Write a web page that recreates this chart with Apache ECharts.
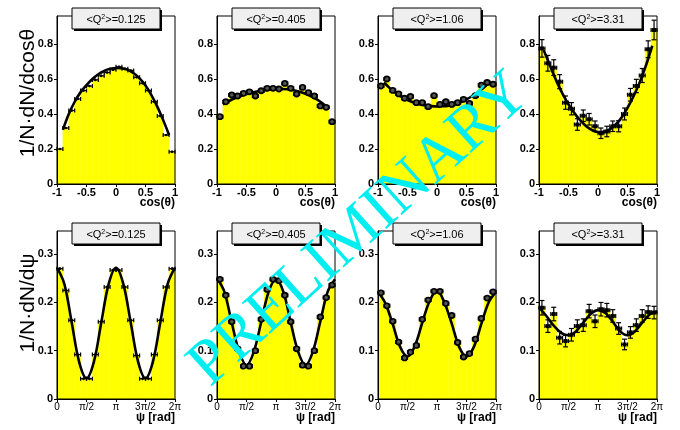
<!DOCTYPE html>
<html>
<head>
<meta charset="utf-8">
<title>angular distributions</title>
<script src="https://cdn.jsdelivr.net/npm/echarts/dist/echarts.min.js"></script>
<style>
    html, body { margin: 0; padding: 0; background: #fff; }
    #main { width: 680px; height: 430px; }
</style>
</head>
<body>
<div id="main"></div>
<script>
// bin edges: cos(theta) and psi (psi in units of pi)
var cosEdges = [-1, -0.9, -0.8, -0.7, -0.6, -0.5, -0.4, -0.3, -0.2, -0.1, 0,
    0.1, 0.2, 0.3, 0.4, 0.5, 0.6, 0.7, 0.8, 0.9, 1];
var psiEdges = [0, 0.1, 0.2, 0.3, 0.4, 0.5, 0.6, 0.7, 0.8, 0.9, 1,
    1.1, 1.2, 1.3, 1.4, 1.5, 1.6, 1.7, 1.8, 1.9, 2];
var psiTickLabels = ['0', 'π/2', 'π', '3π/2', '2π'];
var q2Labels = ['0.125', '0.405', '1.06', '3.31'];

// 1/N dN/dcos(theta)
var cosQ0125 = [0.20, 0.32, 0.42, 0.486, 0.534, 0.56, 0.595, 0.618, 0.637, 0.653,
    0.67, 0.658, 0.649, 0.61, 0.576, 0.534, 0.47, 0.389, 0.28, 0.184];
var cosQ0405 = [0.385, 0.47, 0.509, 0.503, 0.518, 0.527, 0.503, 0.533, 0.547, 0.547,
    0.543, 0.575, 0.547, 0.514, 0.552, 0.522, 0.503, 0.446, 0.438, 0.356];
var cosQ106 = [0.56, 0.60, 0.535, 0.515, 0.49, 0.50, 0.465, 0.465, 0.442, 0.505,
    0.455, 0.47, 0.455, 0.465, 0.484, 0.46, 0.505, 0.565, 0.58, 0.57];
var cosQ331 = [0.775, 0.69, 0.665, 0.585, 0.465, 0.43, 0.34, 0.39, 0.37, 0.33,
    0.29, 0.30, 0.33, 0.33, 0.40, 0.51, 0.56, 0.62, 0.77, 0.88];

var cosErrQ0125 = [0.006, 0.006, 0.006, 0.006, 0.006, 0.006, 0.006, 0.006, 0.006, 0.006,
    0.006, 0.006, 0.006, 0.006, 0.006, 0.006, 0.006, 0.006, 0.006, 0.006];
var cosErrQ0405 = [0.012, 0.012, 0.012, 0.012, 0.012, 0.012, 0.012, 0.012, 0.012, 0.012,
    0.012, 0.012, 0.012, 0.012, 0.012, 0.012, 0.012, 0.012, 0.012, 0.012];
var cosErrQ106 = [0.014, 0.016, 0.014, 0.014, 0.014, 0.014, 0.014, 0.014, 0.014, 0.016,
    0.014, 0.014, 0.014, 0.014, 0.014, 0.014, 0.014, 0.015, 0.016, 0.015];
var cosErrQ331 = [0.05, 0.045, 0.045, 0.04, 0.038, 0.035, 0.033, 0.033, 0.033, 0.03,
    0.03, 0.03, 0.03, 0.032, 0.034, 0.036, 0.038, 0.04, 0.048, 0.056];

// 1/N dN/dpsi
var psiQ0125 = [0.27, 0.225, 0.163, 0.092, 0.042, 0.042, 0.092, 0.16, 0.232, 0.267,
    0.267, 0.232, 0.163, 0.09, 0.042, 0.042, 0.092, 0.163, 0.232, 0.27];
var psiQ0405 = [0.248, 0.215, 0.16, 0.104, 0.068, 0.068, 0.10, 0.165, 0.227, 0.248,
    0.245, 0.215, 0.16, 0.104, 0.07, 0.068, 0.10, 0.17, 0.21, 0.236];
var psiQ106 = [0.22, 0.193, 0.161, 0.118, 0.085, 0.097, 0.111, 0.165, 0.205, 0.223,
    0.223, 0.198, 0.173, 0.117, 0.087, 0.094, 0.124, 0.167, 0.209, 0.222];
var psiQ331 = [0.189, 0.151, 0.176, 0.127, 0.12, 0.133, 0.151, 0.153, 0.182, 0.161,
    0.186, 0.184, 0.172, 0.146, 0.113, 0.138, 0.153, 0.172, 0.18, 0.179];

var psiErrQ0125 = [0.003, 0.003, 0.003, 0.003, 0.003, 0.003, 0.003, 0.003, 0.003, 0.003,
    0.003, 0.003, 0.003, 0.003, 0.003, 0.003, 0.003, 0.003, 0.003, 0.003];
var psiErrQ0405 = [0.005, 0.005, 0.005, 0.005, 0.005, 0.005, 0.005, 0.005, 0.005, 0.005,
    0.005, 0.005, 0.005, 0.005, 0.005, 0.005, 0.005, 0.005, 0.005, 0.005];
var psiErrQ106 = [0.005, 0.005, 0.005, 0.005, 0.005, 0.005, 0.005, 0.005, 0.005, 0.005,
    0.005, 0.005, 0.005, 0.005, 0.005, 0.005, 0.005, 0.005, 0.005, 0.005];
var psiErrQ331 = [0.015, 0.013, 0.014, 0.013, 0.012, 0.013, 0.013, 0.013, 0.014, 0.013,
    0.014, 0.014, 0.013, 0.012, 0.011, 0.012, 0.013, 0.013, 0.013, 0.013];

// fit curves
var fitCosQ0125 = [[-0.9, 0.31], [-0.8, 0.40], [-0.7, 0.47], [-0.6, 0.525], [-0.5, 0.565],
    [-0.4, 0.60], [-0.3, 0.627], [-0.2, 0.646], [-0.1, 0.658], [0, 0.663], [0.1, 0.661],
    [0.2, 0.652], [0.3, 0.633], [0.4, 0.604], [0.5, 0.563], [0.6, 0.508], [0.7, 0.442],
    [0.8, 0.365], [0.9, 0.28]];
var fitCosQ0405 = [[-0.9, 0.455], [-0.7, 0.49], [-0.5, 0.514], [-0.3, 0.53], [-0.1, 0.54],
    [0.1, 0.543], [0.3, 0.536], [0.5, 0.516], [0.7, 0.482], [0.9, 0.43]];
var fitCosQ106 = [[-0.9, 0.58], [-0.8, 0.548], [-0.7, 0.52], [-0.6, 0.498], [-0.5, 0.48],
    [-0.4, 0.466], [-0.3, 0.456], [-0.2, 0.449], [-0.1, 0.445], [0, 0.443], [0.1, 0.444],
    [0.2, 0.448], [0.3, 0.455], [0.4, 0.467], [0.5, 0.483], [0.6, 0.503], [0.7, 0.527],
    [0.8, 0.553], [0.9, 0.582]];
var fitCosQ331 = [[-0.92, 0.765], [-0.8, 0.665], [-0.7, 0.585], [-0.6, 0.515], [-0.5, 0.455],
    [-0.4, 0.405], [-0.3, 0.363], [-0.2, 0.33], [-0.1, 0.308], [0, 0.297], [0.1, 0.298],
    [0.2, 0.312], [0.3, 0.34], [0.4, 0.38], [0.5, 0.435], [0.6, 0.5], [0.7, 0.575],
    [0.8, 0.665], [0.92, 0.79]];

var fitPsiQ0125 = [[0, 0.272], [0.125, 0.238], [0.25, 0.158], [0.375, 0.077], [0.5, 0.043],
    [0.625, 0.077], [0.75, 0.158], [0.875, 0.238], [1, 0.272], [1.125, 0.238], [1.25, 0.158],
    [1.375, 0.077], [1.5, 0.043], [1.625, 0.077], [1.75, 0.158], [1.875, 0.238], [2, 0.272]];
var fitPsiQ0405 = [[0, 0.25], [0.125, 0.222], [0.25, 0.158], [0.375, 0.098], [0.5, 0.07],
    [0.625, 0.098], [0.75, 0.16], [0.875, 0.222], [1, 0.248], [1.125, 0.222], [1.25, 0.158],
    [1.375, 0.098], [1.5, 0.07], [1.625, 0.098], [1.75, 0.16], [1.875, 0.222], [2, 0.248]];
var fitPsiQ106 = [[0, 0.222], [0.125, 0.198], [0.25, 0.155], [0.375, 0.108], [0.5, 0.088],
    [0.625, 0.11], [0.75, 0.158], [0.875, 0.203], [1, 0.225], [1.125, 0.2], [1.25, 0.156],
    [1.375, 0.108], [1.5, 0.088], [1.625, 0.108], [1.75, 0.155], [1.875, 0.2], [2, 0.222]];
var fitPsiQ331 = [[0, 0.19], [0.125, 0.172], [0.25, 0.152], [0.375, 0.137], [0.5, 0.132],
    [0.625, 0.14], [0.75, 0.158], [0.875, 0.176], [1, 0.184], [1.125, 0.178], [1.25, 0.16],
    [1.375, 0.14], [1.5, 0.132], [1.625, 0.14], [1.75, 0.158], [1.875, 0.175], [2, 0.182]];

// layout of the 8 pads
var padLeft = [57, 217, 378, 539];
var padTop = [16, 231];
var padW = 118, padH = 168;
var markerKind = ['dot', 'ring', 'ring', 'square'];
var YELLOW = '#ffff00';
var FONT = '"Liberation Sans", Arial, Helvetica, sans-serif';

var panels = [
    {row: 0, col: 0, edges: cosEdges, vals: cosQ0125, errs: cosErrQ0125, fit: fitCosQ0125},
    {row: 0, col: 1, edges: cosEdges, vals: cosQ0405, errs: cosErrQ0405, fit: fitCosQ0405},
    {row: 0, col: 2, edges: cosEdges, vals: cosQ106, errs: cosErrQ106, fit: fitCosQ106},
    {row: 0, col: 3, edges: cosEdges, vals: cosQ331, errs: cosErrQ331, fit: fitCosQ331},
    {row: 1, col: 0, edges: psiEdges, vals: psiQ0125, errs: psiErrQ0125, fit: fitPsiQ0125},
    {row: 1, col: 1, edges: psiEdges, vals: psiQ0405, errs: psiErrQ0405, fit: fitPsiQ0405},
    {row: 1, col: 2, edges: psiEdges, vals: psiQ106, errs: psiErrQ106, fit: fitPsiQ106},
    {row: 1, col: 3, edges: psiEdges, vals: psiQ331, errs: psiErrQ331, fit: fitPsiQ331}
];

function renderHist(params, api) {
    var p0 = api.coord([api.value(0), api.value(2)]);
    var p1 = api.coord([api.value(1), 0]);
    return {
        type: 'rect',
        shape: {x: p0[0], y: p0[1], width: p1[0] - p0[0], height: p1[1] - p0[1]},
        style: {fill: YELLOW, stroke: YELLOW, lineWidth: 0.5}
    };
}

function seg(x1, y1, x2, y2) {
    return {
        type: 'line',
        shape: {x1: x1, y1: y1, x2: x2, y2: y2},
        style: {stroke: '#000', lineWidth: 1.2}
    };
}

function makeErrRender(kind) {
    return function (params, api) {
        var xl = api.value(0), xr = api.value(1), y = api.value(2), e = api.value(3);
        var xc = (xl + xr) / 2;
        var c = api.coord([xc, y]);
        var l = api.coord([xl, y]), r = api.coord([xr, y]);
        var lo = api.coord([xc, y - e]), hi = api.coord([xc, y + e]);
        var kids = [
            seg(l[0], c[1], r[0], c[1]),
            seg(l[0], c[1] - 2, l[0], c[1] + 2),
            seg(r[0], c[1] - 2, r[0], c[1] + 2),
            seg(c[0], lo[1], c[0], hi[1])
        ];
        if (lo[1] - hi[1] > 6) {
            kids.push(seg(c[0] - 2.5, lo[1], c[0] + 2.5, lo[1]));
            kids.push(seg(c[0] - 2.5, hi[1], c[0] + 2.5, hi[1]));
        }
        if (kind == 'ring') {
            kids.push({type: 'circle', shape: {cx: c[0], cy: c[1], r: 2.6},
                style: {fill: '#555', stroke: '#000', lineWidth: 1.6}});
        } else if (kind == 'square') {
            kids.push({type: 'rect', shape: {x: c[0] - 2, y: c[1] - 2, width: 4, height: 4},
                style: {fill: '#000'}});
        } else {
            kids.push({type: 'circle', shape: {cx: c[0], cy: c[1], r: 1.3}, style: {fill: '#000'}});
        }
        return {type: 'group', children: kids};
    };
}

var grids = [], xAxes = [], yAxes = [], series = [], graphics = [];

panels.forEach(function (p, i) {
    var left = padLeft[p.col], top = padTop[p.row];
    grids.push({left: left, top: top, width: padW, height: padH,
        show: true, borderColor: '#000', borderWidth: 1, backgroundColor: 'transparent', z: 10});

    var isCos = p.row == 0;
    xAxes.push({
        gridIndex: i, type: 'value',
        min: isCos ? -1 : 0, max: isCos ? 1 : 2, interval: 0.5,
        splitLine: {show: false},
        axisLine: {show: true, onZero: false, lineStyle: {color: '#000', width: 1}},
        axisTick: {show: true, inside: false, length: 3, lineStyle: {color: '#000'}},
        axisLabel: {
            margin: 3,
            color: '#000',
            fontFamily: FONT,
            fontSize: isCos ? 11 : 10,
            fontWeight: isCos ? 'bold' : 'normal',
            formatter: isCos ? null : function (v) { return psiTickLabels[Math.round(v / 0.5)]; }
        },
        z: 10
    });
    yAxes.push({
        gridIndex: i, type: 'value',
        min: 0, max: isCos ? 0.96 : 0.348, interval: isCos ? 0.2 : 0.1,
        splitLine: {show: false},
        axisLine: {show: true, onZero: false, lineStyle: {color: '#000', width: 1}},
        axisTick: {show: true, inside: false, length: 3, lineStyle: {color: '#000'}},
        axisLabel: {margin: 4, color: '#000', fontFamily: FONT, fontSize: 11, fontWeight: 'bold',
            showMaxLabel: false},
        z: 10
    });

    var hist = [], pts = [];
    for (var k = 0; k < p.vals.length; k++) {
        hist.push([p.edges[k], p.edges[k + 1], p.vals[k]]);
        pts.push([p.edges[k], p.edges[k + 1], p.vals[k], p.errs[k]]);
    }
    series.push({
        type: 'custom', xAxisIndex: i, yAxisIndex: i, z: 2,
        renderItem: renderHist, data: hist, encode: {x: [0, 1], y: 2}, silent: true
    });
    series.push({
        type: 'line', xAxisIndex: i, yAxisIndex: i, z: 3,
        data: p.fit, smooth: 0.35, showSymbol: false, silent: true,
        lineStyle: {color: '#000', width: 2.6}
    });
    series.push({
        type: 'custom', xAxisIndex: i, yAxisIndex: i, z: 4,
        renderItem: makeErrRender(markerKind[p.col]), data: pts, encode: {x: [0, 1], y: 2},
        silent: true
    });

    // pad title box with a drop shadow
    var cx = left + padW / 2, by = top - 8;
    graphics.push({type: 'rect', z: 20, shape: {x: cx - 44 + 2, y: by + 2, width: 88, height: 21},
        style: {fill: '#000'}});
    graphics.push({type: 'rect', z: 21, shape: {x: cx - 44, y: by, width: 88, height: 21},
        style: {fill: '#efefef', stroke: '#000', lineWidth: 1}});
    graphics.push({type: 'text', z: 22, x: cx, y: by + 11.5,
        style: {
            text: '<Q{sup|2}>=' + q2Labels[p.col],
            rich: {sup: {fontSize: 7, verticalAlign: 'top', padding: [0, 0, 5, 0], fontFamily: FONT}},
            font: '11px ' + FONT, fill: '#000', align: 'center', verticalAlign: 'middle'
        }});

    // axis title under the pad
    graphics.push({type: 'text', z: 22, x: left + padW, y: top + padH + 19,
        style: {
            text: isCos ? 'cos(θ)' : 'ψ [rad]',
            font: 'bold 12px ' + FONT, fill: '#000', align: 'right', verticalAlign: 'middle'
        }});
});

graphics.push({type: 'text', z: 22, x: 28, y: 93, rotation: Math.PI / 2,
    style: {text: '1/N·dN/dcosθ', font: '21px ' + FONT, fill: '#000',
        align: 'center', verticalAlign: 'middle'}});
graphics.push({type: 'text', z: 22, x: 28, y: 303, rotation: Math.PI / 2,
    style: {text: '1/N·dN/dψ', font: '21px ' + FONT, fill: '#000',
        align: 'center', verticalAlign: 'middle'}});

// watermark
graphics.push({type: 'text', z: 100, x: 360, y: 230, rotation: 42 * Math.PI / 180,
    style: {text: 'PRELIMINARY', font: '64px "Liberation Serif", "DejaVu Serif", serif',
        fill: '#00eef0', align: 'center', verticalAlign: 'middle'}});

var myChart = echarts.init(document.getElementById('main'), null, {renderer: 'canvas'});
myChart.setOption({
    animation: false,
    backgroundColor: '#fff',
    grid: grids,
    xAxis: xAxes,
    yAxis: yAxes,
    series: series,
    graphic: graphics
});
</script>
</body>
</html>
